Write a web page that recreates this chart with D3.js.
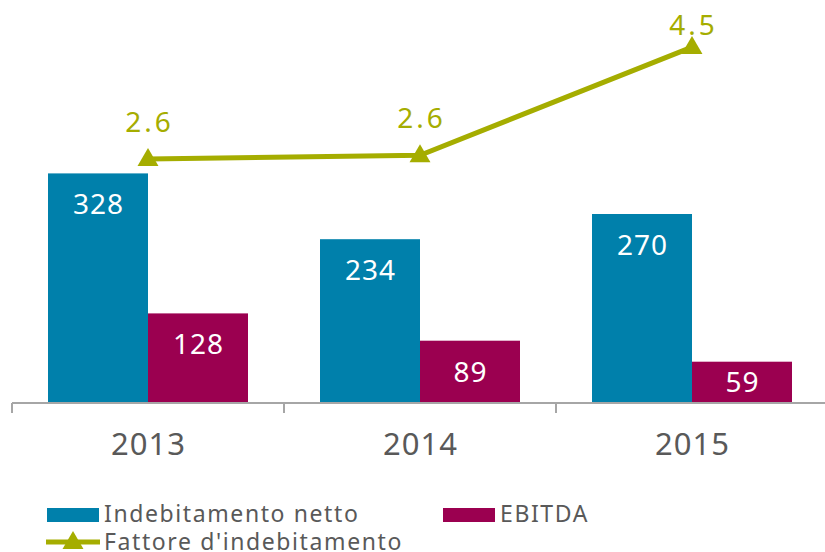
<!DOCTYPE html>
<html>
<head>
<meta charset="utf-8">
<script src="https://cdn.jsdelivr.net/npm/d3@7"></script>
<style>
  body { margin: 0; background: #fff; }
  text { font-family: "Noto Sans", "DejaVu Sans", sans-serif; }
</style>
</head>
<body>
<script>
const years = ["2013", "2014", "2015"]
const debito = [328, 234, 270]
const ebitda = [128, 89, 59]
const fattore = [2.5625, 2.629, 4.576]
const fattoreLabels = ["2.6", "2.6", "4.5"]
const seriesNames = ["Indebitamento netto", "EBITDA", "Fattore d'indebitamento"]

const blue = "#0080ab", purple = "#9b0050", olive = "#a5ad00", grey = "#595959"

const width = 825, height = 552
const svg = d3.select("body").append("svg")
              .attr("width", width)
              .attr("height", height)

const x = d3.scaleBand().domain(years).range([12, 828])
const x1 = d3.scaleBand().domain(["debito", "ebitda"])
             .range([0, x.bandwidth()])
             .paddingOuter(0.36)
const y = d3.scaleLinear().domain([0, 500]).range([403, 53])
const y2 = d3.scaleLinear().domain([0, 5]).range([301.5, 23.5])

const rows = years.map((yr, i) => ({ yr, debito: debito[i], ebitda: ebitda[i], f: fattore[i], fl: fattoreLabels[i] }))

// bars
const gBars = svg.append("g")
const groups = gBars.selectAll("g").data(rows).join("g")
                    .attr("transform", d => `translate(${x(d.yr)},0)`)

const keys = [["debito", blue], ["ebitda", purple]]
keys.forEach(([k, c]) => {
  groups.append("rect")
        .attr("x", x1(k))
        .attr("width", x1.bandwidth())
        .attr("y", d => y(d[k]))
        .attr("height", d => y(0) - y(d[k]))
        .attr("fill", c)
  groups.append("text")
        .attr("x", x1(k) + x1.bandwidth() / 2 + 0.5)
        .attr("y", d => Math.min(y(d[k]) + 31, (y(d[k]) + y(0)) / 2) )
        .attr("dy", "0.36em")
        .attr("text-anchor", "middle")
        .attr("fill", "#fff")
        .attr("font-size", 28)
        .attr("letter-spacing", 1)
        .text(d => d[k])
})

// axis
const gAxis = svg.append("g").attr("stroke", "#a6a6a6").attr("stroke-width", 2)
gAxis.append("line")
     .attr("x1", x.range()[0]).attr("x2", width)
     .attr("y1", y(0)).attr("y2", y(0))
const edges = years.map(d => x(d)).concat([x.range()[1]])
gAxis.selectAll(".tick").data(edges).join("line")
     .attr("class", "tick")
     .attr("x1", d => d).attr("x2", d => d)
     .attr("y1", y(0)).attr("y2", y(0) + 10)

svg.append("g").selectAll("text").data(years).join("text")
   .attr("x", d => x(d) + x.bandwidth() / 2 + 0.5)
   .attr("y", 455)
   .attr("text-anchor", "middle")
   .attr("fill", grey)
   .attr("font-size", 31)
   .attr("letter-spacing", 1)
   .text(d => d)

// line
const cx = d => x(d.yr) + x.bandwidth() / 2
const line = d3.line().x(cx).y(d => y2(d.f))
svg.append("path")
   .datum(rows)
   .attr("d", line)
   .attr("fill", "none")
   .attr("stroke", olive)
   .attr("stroke-width", 5)

const tri = d3.symbol().type(d3.symbolTriangle).size(190)
svg.append("g").selectAll("path").data(rows).join("path")
   .attr("d", tri)
   .attr("transform", d => `translate(${cx(d)},${y2(d.f) + 1})`)
   .attr("fill", olive)

svg.append("g").selectAll("text").data(rows).join("text")
   .attr("x", d => cx(d) + 1.5)
   .attr("y", d => Math.max(y2(d.f) - 27, 35))
   .attr("text-anchor", "middle")
   .attr("fill", olive)
   .attr("font-size", 28)
   .attr("letter-spacing", 3)
   .text(d => d.fl)

// legend
const leg = svg.append("g").attr("font-size", 23).attr("fill", grey).attr("letter-spacing", 1.6)
leg.append("rect").attr("x", 47).attr("y", 508).attr("width", 52).attr("height", 14).attr("fill", blue)
leg.append("text").attr("x", 104).attr("y", 522).text(seriesNames[0])
leg.append("rect").attr("x", 443).attr("y", 508).attr("width", 52).attr("height", 14).attr("fill", purple)
leg.append("text").attr("x", 500).attr("y", 522).text(seriesNames[1])
leg.append("line").attr("x1", 46).attr("x2", 100).attr("y1", 542).attr("y2", 542)
   .attr("stroke", olive).attr("stroke-width", 5)
leg.append("path").attr("d", tri).attr("transform", "translate(73,543)").attr("fill", olive)
leg.append("text").attr("x", 104).attr("y", 550).text(seriesNames[2])
</script>
</body>
</html>
